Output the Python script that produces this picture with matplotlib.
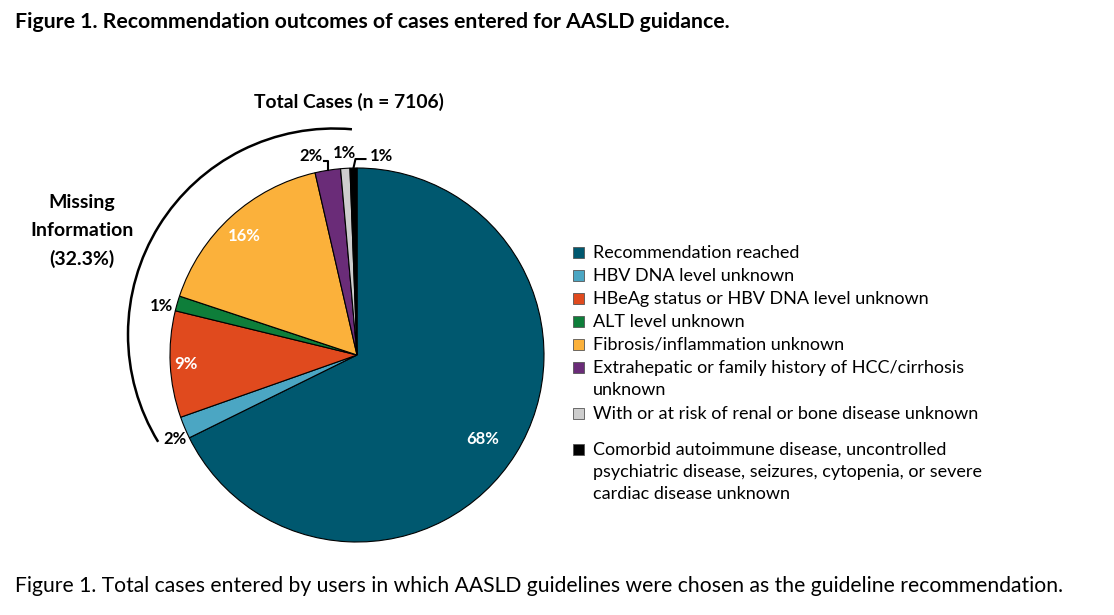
import numpy as np
import matplotlib
matplotlib.use("Agg")
import matplotlib.pyplot as plt
from matplotlib.patches import Arc, Rectangle

plt.rcParams["font.family"] = ["Lato", "DejaVu Sans"]

W, H = 1114, 615

categories = [
    "Recommendation reached",
    "HBV DNA level unknown",
    "HBeAg status or HBV DNA level unknown",
    "ALT level unknown",
    "Fibrosis/inflammation unknown",
    "Extrahepatic or family history of HCC/cirrhosis\nunknown",
    "With or at risk of renal or bone disease unknown",
    "Comorbid autoimmune disease, uncontrolled\npsychiatric disease, seizures, cytopenia, or severe\ncardiac disease unknown",
]
percents = [67.7, 1.9, 9.2, 1.3, 16.3, 2.2, 0.8, 0.6]
total_cases = 7106
missing_pct = 32.3

colors = ["#00586F", "#4BA6C3", "#E04A1E", "#0E7E3A", "#FBB13B",
          "#6A2C78", "#CDCDCD", "#000000"]
# label placement: (radius factor, angle offset deg, text colour)
label_style = [
    (0.81, -2, "white"), (1.07, 2, "black"), (0.915, 0, "white"),
    (1.08, 2, "black"), (0.875, 1, "white"), (1.09, 4, "black"),
    (1.08, 0, "black"), (1.07, -8, "black"),
]


def Y(y):
    return H - y


fig = plt.figure(figsize=(W / 100, H / 100), dpi=100)
ax = fig.add_axes([0, 0, 1, 1])
ax.axis("off")

cx, cy, r = 357, Y(355), 187
wedges, _ = ax.pie(percents, colors=colors, startangle=90, counterclock=False,
                   center=(cx, cy), radius=r,
                   wedgeprops=dict(edgecolor="black", linewidth=0.8))
ax.set_xlim(0, W)
ax.set_ylim(0, H)
ax.set_aspect("equal")

for w, p, (rf, off, tc) in zip(wedges, percents, label_style):
    mid = np.deg2rad((w.theta1 + w.theta2) / 2 + off)
    tx = cx + rf * r * np.cos(mid)
    ty = cy + rf * r * np.sin(mid)
    ax.text(tx, ty, f"{round(p):.0f}%", color=tc, fontsize=12,
            fontweight="bold", ha="center", va="center")

# small leader lines for the purple and black slices
for i, dx in [(5, -4), (7, 12)]:
    w = wedges[i]
    a = np.deg2rad((w.theta1 + w.theta2) / 2)
    x0, y0 = cx + r * np.cos(a), cy + r * np.sin(a)
    ax.plot([x0, x0 + (2 if dx > 0 else 0), x0 + dx],
            [y0, y0 + 9, y0 + 9], color="black", lw=1.5)

# bracket arc for missing information
ax.add_patch(Arc((334, Y(334.5)), 412, 412, theta1=85, theta2=211.4,
                 angle=0, color="black", lw=1.8))
ax.text(82, Y(231), f"Missing\nInformation\n({missing_pct}%)", fontsize=14,
        fontweight="bold", ha="center", va="center", linespacing=1.74)
ax.text(348.5, Y(102), f"Total Cases (n = {total_cases})", fontsize=13.9,
        fontweight="bold", ha="center", va="center")

# legend
ly = 252
for i, (lab, c) in enumerate(zip(categories, colors)):
    if i == len(categories) - 1:
        ly += 13
    ax.add_patch(Rectangle((573, Y(ly) - 5.5), 11, 11, facecolor=c,
                           edgecolor="#555555", lw=0.6))
    ax.text(593, Y(ly) + 7, lab, fontsize=12.95, ha="left", va="top",
            linespacing=1.45)
    ly += 23 * (lab.count("\n") + 1)

fig.text(15 / W, 1 - 22 / H,
         "Figure 1. Recommendation outcomes of cases entered for AASLD guidance.",
         fontsize=15.3, fontweight="bold", ha="left", va="center")
fig.text(15 / W, 1 - 586 / H,
         "Figure 1. Total cases entered by users in which AASLD guidelines were chosen as the guideline recommendation.",
         fontsize=15.2, ha="left", va="center")

fig.savefig("out.png", dpi=100)
